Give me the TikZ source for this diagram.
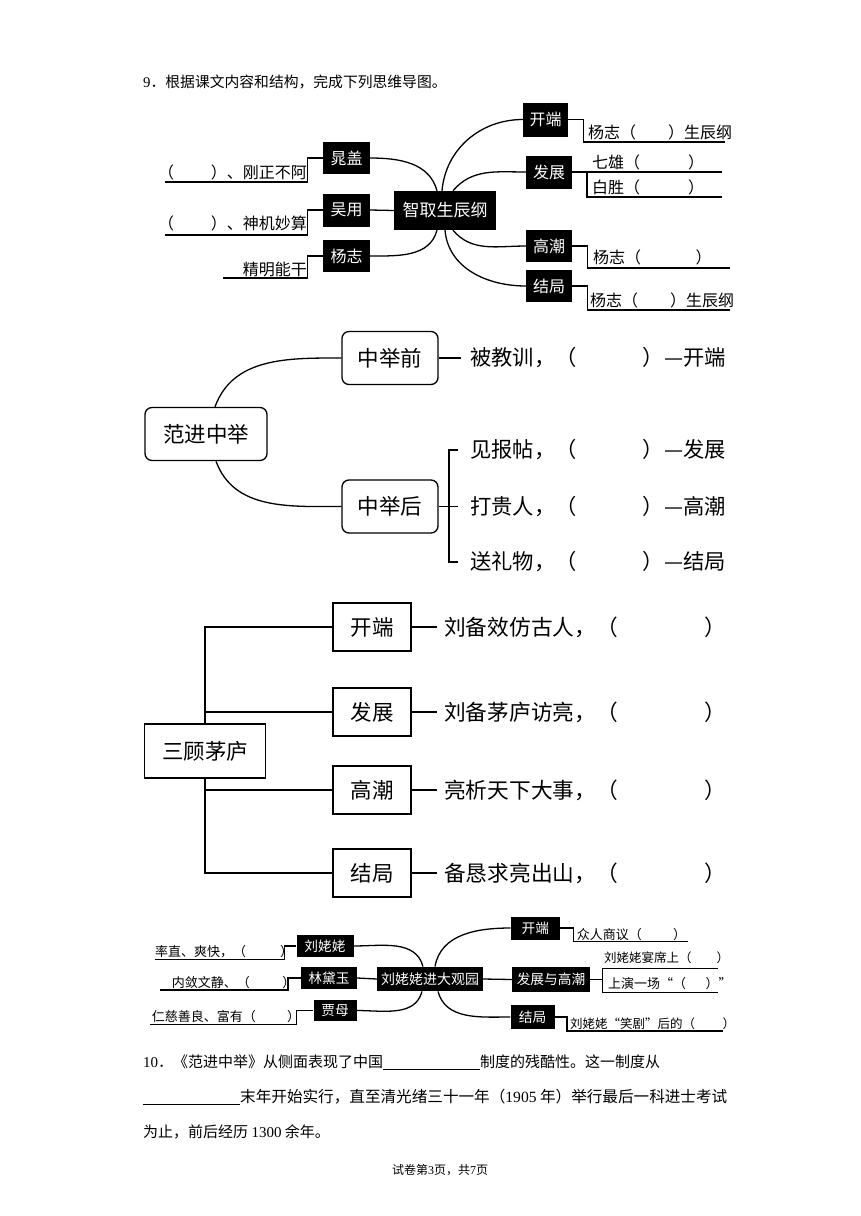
\documentclass[tikz,border=0pt]{standalone}
\usepackage{fontspec}
\setmainfont{Noto Sans CJK SC}
\newfontfamily\lat{Liberation Serif}
\usetikzlibrary{positioning}
\def\fs#1{\fontsize{#1}{#1}\selectfont}
\def\lline#1#2#3{\draw[lnk] (#1.west) -- ++(-#2,0) |- (#3)}
\def\rline#1#2#3{\draw[lnk] (#1.east) -- ++(#2,0) |- (#3)}
\tikzstyle{lnk}=[line width=1.3pt]
\tikzstyle{blk}=[fill=black,text=white,inner sep=0pt,font=\fs{16}]
\tikzstyle{sblk}=[blk,font=\fs{13.7}]
\tikzstyle{rbox}=[draw,rounded corners=7pt,line width=1.3pt,inner sep=0pt,font=\fs{21.5}]
\tikzstyle{sbox}=[draw,line width=1.3pt,inner sep=0pt,font=\fs{21.5}]
\tikzstyle{ans}=[anchor=west,inner sep=0pt]
\tikzstyle{ansr}=[anchor=east,inner sep=0pt]

\begin{document}
\begin{tikzpicture}[x=1pt,y=-1pt]
    \useasboundingbox[fill=white] (0,0) rectangle (860,1216);
    \node[ans,font=\fs{14.8}] (q9) at (143,82) {{\lat 9}．根据课文内容和结构，完成下列思维导图。};

    \node[blk,minimum width=102pt,minimum height=39pt,font=\fs{17}] (zhiqu) at (445,210.5) {智取生辰纲};
    \node[blk,minimum width=47pt,minimum height=32pt] (chaogai) at (346.5,158) {晁盖};
    \node[blk,minimum width=47pt,minimum height=33pt] (wuyong) at (346.5,210) {吴用};
    \node[blk,minimum width=47pt,minimum height=32pt] (yangzhi) at (346.5,256) {杨志};
    \node[blk,minimum width=45pt,minimum height=34pt] (kaiduan) at (545.5,119.5) {开端};
    \node[blk,minimum width=46pt,minimum height=33pt] (fazhan) at (549,172) {发展};
    \node[blk,minimum width=46pt,minimum height=32pt] (gaochao) at (549,246) {高潮};
    \node[blk,minimum width=46pt,minimum height=32pt] (jieju) at (549,286) {结局};
    \draw[lnk] (chaogai.east) to[out=0,in=105] ([xshift=-8pt]zhiqu.north);
    \draw[lnk] (wuyong.east) -- (zhiqu.west);
    \draw[lnk] (yangzhi.east) to[out=0,in=-105] ([xshift=-8pt]zhiqu.south);
    \draw[lnk] ([xshift=-3pt]zhiqu.north) to[out=85,in=180] (kaiduan.west);
    \draw[lnk] ([xshift=8pt]zhiqu.north) to[out=50,in=180] (fazhan.west);
    \draw[lnk] ([xshift=8pt]zhiqu.south) to[out=-50,in=180] (gaochao.west);
    \draw[lnk] (zhiqu.south) to[out=-85,in=180] (jieju.west);
    \node[ansr,font=\fs{16}] (cgtxt) at (307,172) {（\hspace{2.3em}）、刚正不阿};
    \node[ansr,font=\fs{16}] (wytxt) at (307,223) {（\hspace{2.3em}）、神机妙算};
    \node[ansr,font=\fs{16}] (yztxt) at (307,269) {精明能干};
    \coordinate (cgend) at (165,182);
    \coordinate (wyend) at (165,235);
    \coordinate (yzend) at (223,278);
    \lline{chaogai}{15}{cgend};
    \lline{wuyong}{15}{wyend};
    \lline{yangzhi}{15}{yzend};
    \node[ans,font=\fs{16}] (kdtxt) at (588,132) {杨志（\hspace{2em}）生辰纲};
    \node[ans,font=\fs{16}] (qxtxt) at (592,162) {七雄（\hspace{3em}）};
    \node[ans,font=\fs{16}] (bstxt) at (592,187) {白胜（\hspace{3em}）};
    \node[ans,font=\fs{16}] (gctxt) at (593,257) {杨志（\hspace{3.4em}）};
    \node[ans,font=\fs{16}] (jjtxt) at (590,300) {杨志（\hspace{2em}）生辰纲};
    \coordinate (kdend) at (725,142);
    \coordinate (fzfork) at (587,172);
    \coordinate (fzend1) at (722,172);
    \coordinate (fzend2) at (722,197);
    \coordinate (gcend) at (730,268);
    \coordinate (jjend) at (730,310);
    \rline{kaiduan}{15}{kdend};
    \draw[lnk] (fazhan.east) -- (fzend1);
    \draw[lnk] (fzfork) |- (fzend2);
    \rline{gaochao}{15}{gcend};
    \rline{jieju}{15}{jjend};

    \node[rbox,minimum width=122pt,minimum height=53pt] (fanjin) at (206,434) {范进中举};
    \node[rbox,minimum width=96pt,minimum height=53pt] (qian) at (390,358) {中举前};
    \node[rbox,minimum width=96pt,minimum height=53pt] (hou) at (390,506.5) {中举后};
    \draw[lnk] ([xshift=9pt]fanjin.north) to[out=70,in=180] (qian.west);
    \draw[lnk] ([xshift=10pt]fanjin.south) to[out=-70,in=180] (hou.west);
    \node[ans,font=\fs{21.3}] (qtxt) at (470,358) {被教训，（\hspace{3.1em}）—开端};
    \node[ans,font=\fs{21.3}] (h1) at (470,450) {见报帖，（\hspace{3.1em}）—发展};
    \node[ans,font=\fs{21.3}] (h2) at (470,506.5) {打贵人，（\hspace{3.1em}）—高潮};
    \node[ans,font=\fs{21.3}] (h3) at (470,562) {送礼物，（\hspace{3.1em}）—结局};
    \coordinate (hbrk) at (449,506.5);
    \draw[lnk] (qian.east) -- ([xshift=-9pt]qtxt.west);
    \draw[lnk] ([xshift=-12pt]h1.west) -| (hbrk) |- ([xshift=-12pt]h3.west);
    \draw[lnk] (hou.east) -- ([xshift=-12pt]h2.west);

    \node[sbox,minimum width=121pt,minimum height=54pt] (sangu) at (205,751) {三顾茅庐};
    \node[sbox,minimum width=78pt,minimum height=48pt] (s1) at (372,627) {开端};
    \node[sbox,minimum width=78pt,minimum height=48pt] (s2) at (372,712) {发展};
    \node[sbox,minimum width=78pt,minimum height=48pt] (s3) at (372,790) {高潮};
    \node[sbox,minimum width=78pt,minimum height=48pt] (s4) at (372,873) {结局};
    \draw[lnk] (sangu.north) |- (s1.west);
    \draw[lnk] (sangu.north) |- (s2.west);
    \draw[lnk] (sangu.south) |- (s3.west);
    \draw[lnk] (sangu.south) |- (s4.west);
    \node[ans,font=\fs{21.7}] (a1) at (444,627) {刘备效仿古人，（\hspace{4em}）};
    \node[ans,font=\fs{21.7}] (a2) at (444,712) {刘备茅庐访亮，（\hspace{4em}）};
    \node[ans,font=\fs{21.7}] (a3) at (444,790) {亮析天下大事，（\hspace{4em}）};
    \node[ans,font=\fs{21.7}] (a4) at (444,873) {备恳求亮出山，（\hspace{4em}）};
    \draw[lnk] (s1.east) -- ([xshift=-7pt]a1.west);
    \draw[lnk] (s2.east) -- ([xshift=-7pt]a2.west);
    \draw[lnk] (s3.east) -- ([xshift=-7pt]a3.west);
    \draw[lnk] (s4.east) -- ([xshift=-7pt]a4.west);

    \node[sblk,minimum width=106pt,minimum height=24.5pt,font=\fs{14}] (daguan) at (430,979) {刘姥姥进大观园};
    \node[sblk,minimum width=57pt,minimum height=22pt] (lll) at (325,946) {刘姥姥};
    \node[sblk,minimum width=56pt,minimum height=22pt] (ldy) at (329,978) {林黛玉};
    \node[sblk,minimum width=43pt,minimum height=21pt] (jiamu) at (335,1010.5) {贾母};
    \node[sblk,minimum width=49pt,minimum height=23pt] (kd4) at (535.3,928) {开端};
    \node[sblk,minimum width=78pt,minimum height=25.5pt] (fz4) at (551,979.5) {发展与高潮};
    \node[sblk,minimum width=44pt,minimum height=24pt] (jj4) at (532.5,1017) {结局};
    \draw[lnk] (lll.east) to[out=0,in=105] ([xshift=-7pt]daguan.north);
    \draw[lnk] (ldy.east) -- (daguan.west);
    \draw[lnk] (jiamu.east) to[out=0,in=-105] ([xshift=-8pt]daguan.south);
    \draw[lnk] ([xshift=5pt]daguan.north) to[out=80,in=180] (kd4.west);
    \draw[lnk] (daguan.east) -- (fz4.west);
    \draw[lnk] ([xshift=8pt]daguan.south) to[out=-75,in=180] (jj4.west);
    \node[ans,font=\fs{13}] (l1txt) at (155,952) {率直、爽快，（\hspace{2.6em}）};
    \node[ans,font=\fs{13}] (l2txt) at (171.7,982.7) {内敛文静、（\hspace{2.5em}）};
    \node[ans,font=\fs{13}] (l3txt) at (151.7,1016.7) {仁慈善良、富有（\hspace{2.4em}）};
    \coordinate (l1end) at (155,959.3);
    \coordinate (l2end) at (160,990);
    \coordinate (l3end) at (150,1024.3);
    \lline{lll}{11.7}{l1end};
    \lline{ldy}{12.7}{l2end};
    \lline{jiamu}{16.6}{l3end};
    \node[ans,font=\fs{13}] (r1txt) at (576.7,935) {众人商议（\hspace{2.4em}）};
    \node[ans,font=\fs{12.5}] (r2txt) at (604,958) {刘姥姥宴席上（\hspace{2em}）};
    \node[ans,font=\fs{13}] (r3txt) at (608,984) {上演一场“（\hspace{1.5em}）”};
    \node[ans,font=\fs{12.5}] (r4txt) at (570,1024) {刘姥姥“笑剧”后的（\hspace{2.2em}）};
    \coordinate (r1end) at (688,941.7);
    \coordinate (fz4fork) at (602.7,979.5);
    \coordinate (r2end) at (718.3,968.3);
    \coordinate (r3end) at (718.3,992.3);
    \coordinate (r4end) at (723.3,1031);
    \rline{kd4}{13.3}{r1end};
    \draw[lnk] (fz4.east) -- (fz4fork) |- (r2end);
    \draw[lnk] (fz4fork) |- (r3end);
    \rline{jj4}{12.4}{r4end};

    \node[ans,font=\fs{15}] (q10a) at (143,1062) {{\lat 10}．《范进中举》从侧面表现了中国\underline{\hspace{97pt}}制度的残酷性。这一制度从};
    \node[ans,font=\fs{15.6}] (q10b) at (143,1097) {\underline{\hspace{97pt}}末年开始实行，直至清光绪三十一年（{\lat 1905} 年）举行最后一科进士考试};
    \node[ans,font=\fs{15}] (q10c) at (143,1132) {为止，前后经历 {\lat 1300} 余年。};
    \node[font=\fs{12},inner sep=0pt] (foot) at (440,1170) {试卷第{\lat 3}页，共{\lat 7}页};
\end{tikzpicture}
\end{document}
